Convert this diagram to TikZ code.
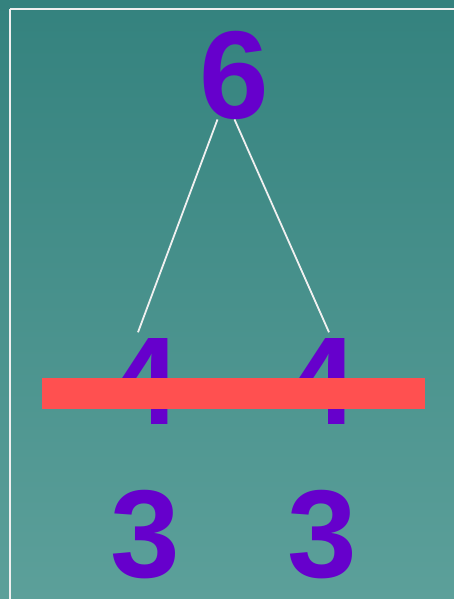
\documentclass[tikz,border=0pt]{standalone}
\usepackage{fontspec}
\setmainfont{Liberation Sans}
\usetikzlibrary{calc}
\definecolor{bgtop}{RGB}{52,130,126}
\definecolor{bgbot}{RGB}{92,160,154}
\definecolor{digit}{RGB}{102,0,204}
\definecolor{barred}{RGB}{255,80,80}
\definecolor{frame}{RGB}{240,240,240}
\tikzset{
  num/.style={text=digit, font=\fontsize{125}{125}\selectfont\bfseries, inner sep=0pt},
  link/.style={draw=frame, line width=1.8pt},
}
\begin{document}
\begin{tikzpicture}[x=1pt,y=-1pt]
\useasboundingbox (0,0) rectangle (454,599);
\shade[top color=bgtop, bottom color=bgbot] (0,0) rectangle (454,599);
\draw[frame, line width=2pt] (10,9) -- (470,9) (10,9) -- (10,620);
\node[num] (six) at (234.5,75) {6};
\node[num] (fourL) at (145,381.5) {4};
\node[num] (threeL) at (145,535) {3};
\node[num] (fourR) at (322,381.5) {4};
\node[num] (threeR) at (322,535) {3};
\draw[link] ($(six.south)+(-17,0)$) -- ($(fourL.north)+(-7,-6)$);
\draw[link] ($(six.south)+(0,0)$) -- ($(fourR.north)+(7,-6)$);
\fill[barred] (42,378) rectangle (425,409);
\end{tikzpicture}
\end{document}
